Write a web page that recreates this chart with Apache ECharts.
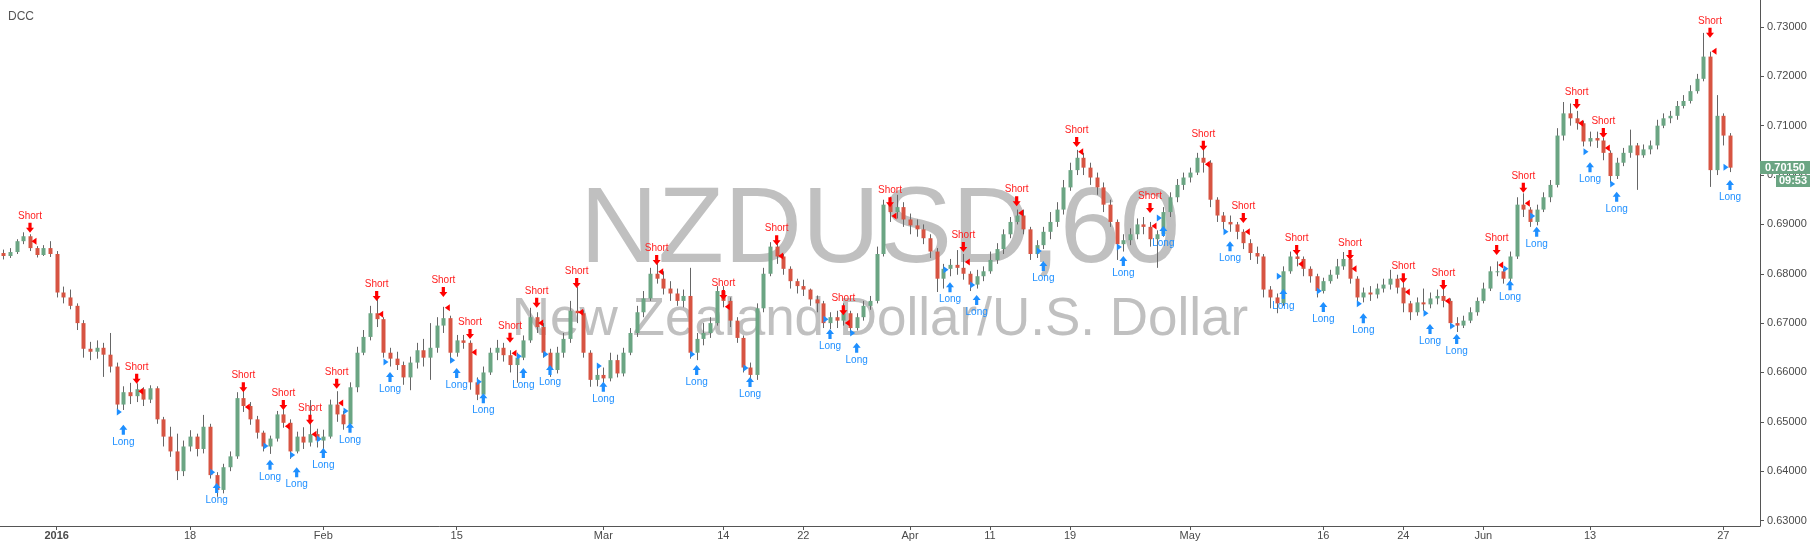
<!DOCTYPE html>
<html><head><meta charset="utf-8">
<script src="https://cdn.jsdelivr.net/npm/echarts@6/dist/echarts.min.js"></script>
<style>html,body{margin:0;padding:0;background:#fff}#c{width:1810px;height:544px}</style>
</head><body><div id="c"></div><script>
// NZDUSD half-day candles, values in pips: [open, close, low, high]
const candlesPips = [
[6842,6836,6829,6849],[6836,6844,6832,6852],[6844,6866,6840,6870],[6866,6876,6860,6884],[6876,6852,6846,6880],
[6852,6838,6833,6856],[6838,6852,6836,6858],[6852,6840,6834,6866],[6840,6762,6752,6846],[6762,6752,6740,6774],
[6752,6735,6728,6768],[6735,6700,6686,6740],[6700,6648,6630,6706],[6648,6642,6625,6662],[6642,6650,6628,6665],
[6650,6636,6591,6660],[6636,6612,6600,6680],[6612,6535,6518,6620],[6535,6560,6524,6572],[6560,6552,6536,6579],
[6552,6566,6540,6578],[6566,6545,6532,6570],[6545,6568,6538,6574],[6568,6505,6496,6572],[6505,6470,6450,6510],
[6470,6440,6429,6490],[6440,6400,6382,6476],[6400,6450,6390,6462],[6450,6470,6440,6483],[6470,6445,6430,6476],
[6445,6490,6436,6514],[6490,6392,6385,6496],[6392,6362,6348,6398],[6362,6408,6355,6415],[6408,6430,6400,6440],
[6430,6548,6425,6560],[6548,6532,6520,6564],[6532,6505,6494,6540],[6505,6478,6466,6512],[6478,6450,6440,6482],
[6450,6466,6435,6472],[6466,6515,6460,6522],[6515,6498,6488,6526],[6498,6440,6425,6505],[6440,6470,6436,6480],
[6470,6458,6445,6489],[6458,6475,6450,6544],[6475,6462,6448,6486],[6462,6470,6443,6484],[6470,6535,6466,6545],
[6535,6515,6500,6562],[6515,6495,6484,6522],[6495,6570,6490,6580],[6570,6640,6560,6652],[6640,6672,6635,6686],
[6672,6720,6665,6735],[6720,6708,6692,6751],[6708,6640,6630,6712],[6640,6628,6612,6650],[6628,6615,6605,6642],
[6615,6590,6575,6622],[6590,6620,6564,6632],[6620,6645,6608,6660],[6645,6630,6612,6668],[6630,6650,6585,6700],
[6650,6695,6640,6712],[6695,6710,6680,6733],[6710,6640,6620,6715],[6640,6665,6632,6676],[6665,6660,6648,6676],
[6660,6580,6565,6665],[6580,6555,6544,6590],[6555,6600,6548,6612],[6600,6640,6595,6650],[6640,6650,6625,6666],
[6650,6635,6622,6660],[6635,6615,6600,6645],[6615,6630,6579,6640],[6630,6665,6625,6675],[6665,6712,6660,6731],
[6712,6692,6680,6722],[6692,6640,6630,6700],[6640,6605,6591,6648],[6605,6640,6598,6652],[6640,6668,6630,6680],
[6668,6725,6660,6745],[6725,6720,6700,6773],[6720,6640,6630,6726],[6640,6585,6571,6645],[6585,6595,6572,6608],
[6595,6588,6574,6610],[6588,6625,6582,6640],[6625,6598,6590,6636],[6598,6640,6592,6650],[6640,6680,6635,6690],
[6680,6722,6672,6735],[6722,6750,6712,6765],[6750,6800,6745,6812],[6800,6790,6780,6822],[6790,6770,6758,6805],
[6770,6760,6745,6785],[6760,6745,6735,6770],[6745,6755,6732,6768],[6755,6640,6628,6812],[6640,6668,6625,6680],
[6668,6680,6655,6700],[6680,6700,6670,6712],[6700,6765,6695,6775],[6765,6745,6732,6775],[6745,6705,6692,6752],
[6705,6670,6660,6712],[6670,6610,6600,6675],[6610,6595,6580,6620],[6595,6730,6585,6740],[6730,6800,6722,6812],
[6800,6855,6795,6864],[6855,6835,6820,6862],[6835,6810,6798,6840],[6810,6785,6770,6815],[6785,6775,6760,6790],
[6775,6768,6755,6788],[6768,6748,6735,6770],[6748,6740,6722,6756],[6740,6700,6690,6745],[6700,6712,6688,6722],
[6712,6705,6690,6725],[6705,6720,6695,6740],[6720,6690,6680,6725],[6690,6712,6685,6720],[6712,6735,6705,6745],
[6735,6745,6727,6755],[6745,6840,6740,6855],[6840,6940,6835,6950],[6940,6925,6905,6956],[6925,6935,6912,6960],
[6935,6910,6895,6945],[6910,6898,6880,6922],[6898,6890,6875,6910],[6890,6872,6860,6900],[6872,6845,6832,6880],
[6845,6790,6763,6852],[6790,6810,6770,6820],[6810,6818,6795,6830],[6818,6812,6798,6848],[6812,6800,6788,6840],
[6800,6778,6765,6805],[6778,6795,6770,6808],[6795,6805,6785,6815],[6805,6828,6800,6845],[6828,6850,6820,6862],
[6850,6880,6840,6890],[6880,6905,6872,6915],[6905,6918,6900,6930],[6918,6890,6880,6930],[6890,6840,6828,6895],
[6840,6858,6832,6868],[6858,6885,6850,6895],[6885,6905,6870,6925],[6905,6930,6895,6945],[6930,6975,6920,6990],
[6975,7010,6968,7025],[7010,7035,7000,7051],[7035,7015,7000,7045],[7015,6995,6980,7025],[6995,6975,6960,7005],
[6975,6940,6925,6985],[6940,6905,6895,6950],[6905,6860,6828,6910],[6860,6868,6845,6880],[6868,6880,6858,6892],
[6880,6900,6870,6912],[6900,6895,6880,6915],[6895,6870,6855,6905],[6870,6880,6812,6888],[6880,6925,6875,6935],
[6925,6955,6915,6965],[6955,6980,6945,6992],[6980,6995,6970,7005],[6995,7005,6985,7015],[7005,7035,7000,7045],
[7035,7025,7005,7055],[7025,6950,6935,7030],[6950,6918,6905,6955],[6918,6905,6890,6925],[6905,6900,6885,6918],
[6900,6885,6870,6905],[6885,6862,6850,6890],[6862,6842,6828,6870],[6842,6835,6820,6855],[6835,6768,6752,6840],
[6768,6752,6730,6775],[6752,6740,6720,6760],[6740,6805,6735,6815],[6805,6835,6800,6845],[6835,6830,6815,6852],
[6830,6810,6795,6835],[6810,6795,6782,6815],[6795,6765,6752,6800],[6765,6785,6760,6792],[6785,6798,6780,6808],
[6798,6815,6790,6830],[6815,6830,6808,6844],[6830,6790,6780,6838],[6790,6752,6740,6795],[6752,6762,6742,6772],
[6762,6758,6745,6775],[6758,6770,6750,6780],[6770,6778,6762,6790],[6778,6790,6768,6808],[6790,6772,6760,6798],
[6772,6740,6722,6782],[6740,6722,6706,6745],[6722,6742,6715,6752],[6742,6738,6725,6770],[6738,6750,6730,6762],
[6750,6755,6738,6768],[6755,6745,6732,6775],[6745,6700,6690,6750],[6700,6695,6682,6712],[6695,6705,6690,6715],
[6705,6722,6700,6732],[6722,6745,6715,6752],[6745,6770,6740,6782],[6770,6805,6765,6815],[6805,6805,6795,6825],
[6805,6790,6780,6810],[6790,6835,6785,6845],[6835,6940,6830,6955],[6940,6930,6915,6963],[6930,6905,6895,6935],
[6905,6930,6898,6940],[6930,6955,6925,6965],[6955,6980,6945,6990],[6980,7080,6975,7095],[7080,7125,7070,7148],
[7125,7115,7100,7145],[7115,7105,7092,7130],[7105,7068,7058,7110],[7068,7075,7058,7088],[7075,7070,7055,7088],
[7070,7045,7030,7075],[7045,6998,6984,7050],[6998,7025,6992,7035],[7025,7045,7018,7055],[7045,7060,7035,7092],
[7060,7040,6970,7065],[7040,7052,7035,7062],[7052,7060,7042,7070],[7060,7100,7052,7112],[7100,7115,7095,7125],
[7115,7120,7105,7130],[7120,7140,7112,7150],[7140,7150,7135,7162],[7150,7170,7145,7182],[7170,7195,7165,7205],
[7195,7240,7190,7288],[7240,7010,6976,7250],[7010,7120,7000,7162],[7120,7080,7060,7125],[7080,7015,7006,7085]
];
// Signals: [candle index, arrow tip (pips), entry marker (pips)]
const shortSignals = [
[4,6883,6866],[20,6577,6562],[36,6560,6530],[42,6524,6491],[46,6494,6475],[50,6567,6538],[56,6745,6718],
[66,6753,6731],[70,6668,6641],[76,6660,6639],[80,6731,6700],[86,6771,6722],[98,6818,6804],[108,6747,6733],
[116,6858,6836],[126,6716,6700],[133,6935,6917],[144,6844,6824],[152,6937,6923],[161,7057,7047],[172,6923,6897],
[180,7049,7022],[186,6903,6885],[194,6838,6820],[202,6828,6810],[210,6781,6763],[216,6767,6745],[224,6838,6818],
[228,6964,6943],[236,7134,7105],[240,7075,7055],[256,7278,7251]
];
const longSignals = [
[18,6494,6520],[32,6376,6398],[40,6423,6451],[44,6408,6433],[48,6447,6465],[52,6498,6522],[58,6601,6621],
[68,6609,6625],[72,6558,6581],[78,6609,6633],[82,6615,6637],[90,6581,6613],[104,6615,6637],[112,6591,6609],
[124,6688,6708],[128,6660,6680],[142,6783,6808],[146,6757,6777],[156,6826,6846],[168,6836,6854],[174,6897,6913],
[184,6866,6885],[192,6769,6795],[198,6743,6765],[204,6720,6739],[214,6698,6720],[218,6678,6694],[226,6787,6810],
[230,6895,6917],[238,7026,7047],[242,6966,6982],[259,6990,7016]
];
const priceTicks = [0.63,0.64,0.65,0.66,0.67,0.68,0.69,0.70,0.71,0.72,0.73];
const tickCats = [8,28,48,68,90,108,120,136,148,160,178,198,210,222,238,258];
const tickTexts = ['2016','18','Feb','15','Mar','14','22','Apr','11','19','May','16','24','Jun','13','27'];
const totalCats = 264;
const lastTimeText = '09:53';
const titleText = 'NZDUSD,60';
const subtitleText = 'New Zealand Dollar/U.S. Dollar';
const studyText = 'DCC';

const UP = '#6ba583', DOWN = '#d75442', WICK = '#666666';
const RED = '#ff0000', BLUE = '#1e8fff';
const FONT = 'Liberation Sans, Arial, sans-serif';

const cats = Array.from({length: totalCats}, (_, i) => String(i));
const candleData = candlesPips.map((r, i) => [i, r[0]/1e4, r[1]/1e4, r[2]/1e4, r[3]/1e4]);
const lastClose = candlesPips[candlesPips.length - 1][1] / 1e4;

const chart = echarts.init(document.getElementById('c'), null, {renderer: 'canvas'});
chart.setOption({
  animation: false,
  backgroundColor: '#ffffff',
  grid: {left: 0, right: 50, top: 0, bottom: 18, containLabel: false},
  xAxis: {
    type: 'category', data: cats, boundaryGap: true,
    axisLine: {show: true, lineStyle: {color: '#555', width: 1}},
    axisTick: {show: true, alignWithLabel: true, length: 4, interval: (i) => tickCats.includes(i), lineStyle: {color: '#555'}},
    axisLabel: {
      interval: (i) => tickCats.includes(i),
      formatter: (v, i) => { const k = tickCats.indexOf(Number(v)); if (k < 0) return ''; return k === 0 ? '{b|' + tickTexts[k] + '}' : tickTexts[k]; },
      color: '#4a4a4a', fontSize: 11, fontFamily: FONT, margin: 4,
      rich: {b: {fontWeight: 'bold', fontSize: 11, color: '#4a4a4a', fontFamily: FONT}}
    },
    splitLine: {show: false}
  },
  yAxis: {
    type: 'value', position: 'right', min: 0.62889, max: 0.73547, scale: true,
    splitLine: {show: false},
    axisLine: {show: true, lineStyle: {color: '#555', width: 1}},
    axisTick: {show: true, length: 4, customValues: priceTicks, lineStyle: {color: '#555'}},
    axisLabel: {customValues: priceTicks, formatter: (v) => v.toFixed(5), color: '#4a4a4a', fontSize: 11, fontFamily: FONT, margin: 7}
  },
  series: [
    {
      type: 'custom', name: 'NZDUSD', z: 3, data: candleData,
      encode: {x: 0, y: [1, 2, 3, 4]},
      renderItem: (params, api) => {
        const i = api.value(0), o = api.value(1), c = api.value(2), l = api.value(3), h = api.value(4);
        const po = api.coord([i, o]), pc = api.coord([i, c]), pl = api.coord([i, l]), ph = api.coord([i, h]);
        const bw = api.size([1, 0])[0] * 0.6;
        const x = Math.round(pc[0]) + 0.5;
        const top = Math.min(po[1], pc[1]);
        const ht = Math.max(1, Math.abs(po[1] - pc[1]));
        return {type: 'group', children: [
          {type: 'line', shape: {x1: x, y1: ph[1], x2: x, y2: pl[1]}, style: {stroke: WICK, lineWidth: 1}},
          {type: 'rect', shape: {x: x - bw/2, y: top, width: bw, height: ht}, style: {fill: c >= o ? UP : DOWN}}
        ]};
      }
    },
    {
      type: 'scatter', name: 'shortArrow', z: 5, silent: true,
      data: shortSignals.map(s => [s[0], s[1]/1e4]),
      symbol: 'path://M3,0L7,0L7,5L10,5L5,10L0,5L3,5Z', symbolSize: [8, 10], symbolOffset: [0, -5],
      itemStyle: {color: RED, opacity: 1},
      label: {show: true, formatter: 'Short', position: 'top', distance: 2, color: '#ff1f1f', fontSize: 10, fontFamily: FONT}
    },
    {
      type: 'scatter', name: 'shortEntry', z: 5, silent: true,
      data: shortSignals.map(s => [s[0], s[2]/1e4]),
      symbol: 'path://M0,5L8,0L8,10Z', symbolSize: [5, 7], symbolOffset: [4, 0],
      itemStyle: {color: RED, opacity: 1}
    },
    {
      type: 'scatter', name: 'longArrow', z: 5, silent: true,
      data: longSignals.map(s => [s[0], s[1]/1e4]),
      symbol: 'path://M5,0L10,5L7,5L7,10L3,10L3,5L0,5Z', symbolSize: [8, 10], symbolOffset: [0, 5],
      itemStyle: {color: BLUE, opacity: 1},
      label: {show: true, formatter: 'Long', position: 'bottom', distance: 2, color: BLUE, fontSize: 10, fontFamily: FONT}
    },
    {
      type: 'scatter', name: 'longEntry', z: 5, silent: true,
      data: longSignals.map(s => [s[0], s[2]/1e4]),
      symbol: 'path://M8,5L0,0L0,10Z', symbolSize: [5, 7], symbolOffset: [-4, 0],
      itemStyle: {color: BLUE, opacity: 1}
    }
  ]
});

const py = Math.round(chart.convertToPixel({yAxisIndex: 0}, lastClose));
chart.setOption({
  graphic: {elements: [
    {id: 'wm1', type: 'text', z: 1, silent: true, x: 880, y: 232,
     style: {text: titleText, font: '108px ' + FONT, fill: '#c0c0c0', textAlign: 'center', textVerticalAlign: 'middle'}},
    {id: 'wm2', type: 'text', z: 1, silent: true, x: 880, y: 320,
     style: {text: subtitleText, font: '53px ' + FONT, fill: '#c0c0c0', textAlign: 'center', textVerticalAlign: 'middle'}},
    {id: 'study', type: 'text', z: 1, silent: true, x: 8, y: 17,
     style: {text: studyText, font: '12px ' + FONT, fill: '#555555', textVerticalAlign: 'middle'}},
    {id: 'pbox', type: 'rect', z: 100, silent: true, shape: {x: 1760, y: py - 7, width: 50, height: 13}, style: {fill: UP}},
    {id: 'ptxt', type: 'text', z: 101, silent: true, x: 1785, y: py - 0.5,
     style: {text: lastClose.toFixed(5), font: 'bold 11px ' + FONT, fill: '#ffffff', textAlign: 'center', textVerticalAlign: 'middle'}},
    {id: 'tbox', type: 'rect', z: 100, silent: true, shape: {x: 1776, y: py + 7, width: 34, height: 12}, style: {fill: UP}},
    {id: 'ttxt', type: 'text', z: 101, silent: true, x: 1793, y: py + 13,
     style: {text: lastTimeText, font: 'bold 11px ' + FONT, fill: '#ffffff', textAlign: 'center', textVerticalAlign: 'middle'}}
  ]}
});
</script></body></html>
